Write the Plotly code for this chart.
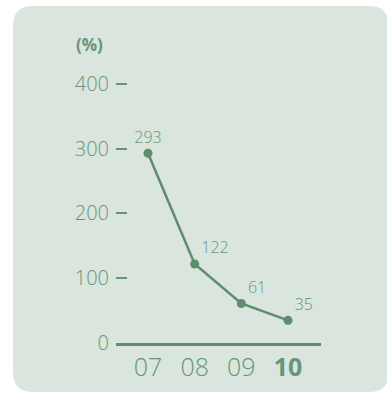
import plotly.graph_objects as go

# Chart data
years = ["07", "08", "09", "10"]
values = [293, 122, 61, 35]
y_ticks = [0, 100, 200, 300, 400]
unit_label = "(%)"

W, H = 387, 394
M = dict(l=116, r=66, t=81, b=51)

PANEL = "#d9e5dd"
TEXT = "#66957a"
LINE = "#5d8d6d"
FONT = "Open Sans"

pw = W - M["l"] - M["r"]
ph = H - M["t"] - M["b"]


def px_x(p):
    return (p - M["l"]) / pw


def px_y(p):
    return (H - M["b"] - p) / ph


# Rounded background panel, in paper coordinates
x0, x1, y0, y1, rad = 13, 389, 6, 392, 20
rx, ry = rad / pw, rad / ph
X0, X1, Y0, Y1 = px_x(x0), px_x(x1), px_y(y1), px_y(y0)
panel_path = (
    f"M {X0 + rx} {Y0} L {X1 - rx} {Y0} Q {X1} {Y0} {X1} {Y0 + ry} "
    f"L {X1} {Y1 - ry} Q {X1} {Y1} {X1 - rx} {Y1} "
    f"L {X0 + rx} {Y1} Q {X0} {Y1} {X0} {Y1 - ry} "
    f"L {X0} {Y0 + ry} Q {X0} {Y0} {X0 + rx} {Y0} Z"
)

xpos = list(range(len(years)))
text_pos = ["top center"] + ["top right"] * (len(years) - 1)

fig = go.Figure()
fig.add_trace(go.Scatter(
    x=xpos, y=values,
    mode="lines+markers+text",
    line=dict(color=LINE, width=2.5),
    marker=dict(color=LINE, size=9),
    text=[str(v) for v in values],
    textposition=text_pos,
    textfont=dict(family=FONT, size=16, color=TEXT, weight=300),
    cliponaxis=False,
    hoverinfo="skip",
))

fig.add_shape(type="path", path=panel_path, xref="paper", yref="paper",
              fillcolor=PANEL, line=dict(width=0), layer="below")

fig.add_annotation(text=f"<b>{unit_label}</b>", xref="paper", yref="paper",
                   x=px_x(74), y=px_y(44), xanchor="left", yanchor="middle",
                   showarrow=False, font=dict(family=FONT, size=17, color=TEXT))

ticktext = [f"<b>{y}</b>" if i == len(years) - 1 else y for i, y in enumerate(years)]

fig.update_layout(
    width=W, height=H, margin=M,
    paper_bgcolor="white", plot_bgcolor="rgba(0,0,0,0)",
    showlegend=False,
    xaxis=dict(
        range=[-0.686, 3.707], tickvals=xpos, ticktext=ticktext,
        showgrid=False, zeroline=False, showline=True,
        linecolor=LINE, linewidth=3, ticks="",
        tickfont=dict(family=FONT, size=25, color=TEXT, weight=300),
        fixedrange=True,
    ),
    yaxis=dict(
        range=[0, 404.6], tickvals=y_ticks,
        showgrid=False, zeroline=False, showline=False,
        ticks="inside", ticklen=11, tickwidth=1.5, tickcolor=TEXT,
        ticklabelstandoff=6,
        tickfont=dict(family=FONT, size=20, color=TEXT, weight=300),
        fixedrange=True,
    ),
)

fig.write_html("out.html")
